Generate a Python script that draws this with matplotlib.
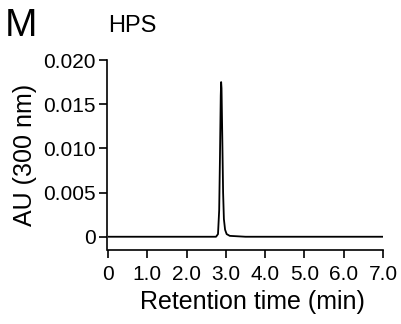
import numpy as np
import matplotlib.pyplot as plt

plt.rcParams['font.family'] = ['Liberation Sans', 'DejaVu Sans']

# chromatogram points
time_min = [0.0, 0.5, 1.0, 1.5, 2.0, 2.5, 2.75, 2.80, 2.83, 2.85, 2.87, 2.88,
            2.89, 2.91, 2.93, 2.95, 2.98, 3.02, 3.1, 3.5, 4.0, 5.0, 6.0, 7.0]
au = [0.0, 0.0, 0.0, 0.0, 0.0, 0.0, 0.0, 0.0003, 0.0030, 0.0090, 0.0160, 0.0175,
      0.0168, 0.0110, 0.0050, 0.0020, 0.0008, 0.0003, 0.0001, 0.0, 0.0, 0.0, 0.0, 0.0]

xticks = [0, 1, 2, 3, 4, 5, 6, 7]
xtick_labels = ['0', '1.0', '2.0', '3.0', '4.0', '5.0', '6.0', '7.0']
yticks = [0, 0.005, 0.010, 0.015, 0.020]
ytick_labels = ['0', '0.005', '0.010', '0.015', '0.020']

fig = plt.figure(figsize=(4.02, 3.24), dpi=100)
ax = fig.add_axes([108 / 402, 1 - 250 / 324, 275 / 402, 190 / 324])

ax.plot(time_min, au, color='black', lw=1.3)

ax.set_xlim(0, 7)
ax.set_ylim(-0.0015, 0.020)
ax.set_xticks(xticks)
ax.set_xticklabels(xtick_labels)
ax.set_yticks(yticks)
ax.set_yticklabels(ytick_labels)

for s in ['top', 'right']:
    ax.spines[s].set_visible(False)
for s in ['left', 'bottom']:
    ax.spines[s].set_linewidth(1.2)
ax.spines['left'].set_position(('outward', 1))
ax.tick_params(width=1.2, length=6, labelsize=15, pad=2)
ax.tick_params(axis='x', pad=5)

ax.set_xlabel('Retention time (min)', fontsize=18)
ax.xaxis.set_label_coords(252 / 402, 1 - 314 / 324, transform=fig.transFigure)
ax.xaxis.label.set_va('bottom')
ax.set_ylabel('AU (300 nm)', fontsize=18, labelpad=4)

fig.text(0.012, 0.975, 'M', fontsize=28, va='top', ha='left')
fig.text(108 / 402, 0.955, 'HPS', fontsize=17, va='top', ha='left')

fig.savefig('out.png', dpi=100)
